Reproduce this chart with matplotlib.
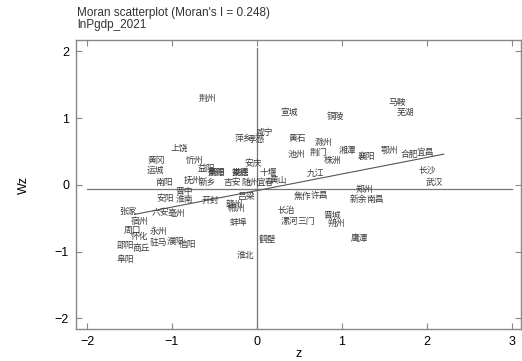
import matplotlib
matplotlib.use("Agg")
import matplotlib.pyplot as plt

plt.rcParams['font.family'] = ['Liberation Sans', 'DejaVu Sans']

title1 = "Moran scatterplot (Moran's I = 0.248)"
title2 = "lnPgdp_2021"
moran_i = 0.248
intercept = -0.085
line_x = [-1.44, 2.2]
mean_wz = -0.06

labels = ["荆州", "宣城", "铜陵", "马鞍", "芜湖", "咸宁", "萍乡", "孝感", "黄石", "滁州",
          "池州", "荆门", "鄂州", "湘潭", "株洲", "襄阳", "合肥", "宜昌", "长沙", "武汉",
          "九江", "十堰", "安庆", "黄山", "宜春", "上饶", "黄冈", "忻州", "运城", "益阳",
          "衡阳", "娄底", "南阳", "抚州", "新乡", "吉安", "随州", "晋中", "安阳", "淮南",
          "开封", "赣州", "吕梁", "郴州", "蚌埠", "张家", "六安", "亳州", "宿州", "周口",
          "永州", "怀化", "驻马", "濮阳", "信阳", "邵阳", "商丘", "阜阳", "淮北", "鹤壁",
          "焦作", "许昌", "郑州", "新余", "南昌", "长治", "漯河", "三门", "晋城", "朔州",
          "鹰潭", "景德", "常德"]
z = [-0.58, 0.38, 0.92, 1.65, 1.75, 0.09, -0.16, -0.01, 0.47, 0.78,
     0.47, 0.73, 1.56, 1.06, 0.89, 1.29, 1.80, 1.98, 2.00, 2.09,
     0.69, 0.13, -0.04, 0.25, 0.10, -0.91, -1.18, -0.74, -1.20, -0.60,
     -0.48, -0.20, -1.09, -0.76, -0.58, -0.29, -0.08, -0.86, -1.08, -0.85,
     -0.55, -0.26, -0.12, -0.24, -0.22, -1.52, -1.14, -0.95, -1.38, -1.46,
     -1.16, -1.38, -1.16, -0.96, -0.82, -1.55, -1.36, -1.55, -0.13, 0.13,
     0.54, 0.74, 1.27, 1.19, 1.39, 0.35, 0.38, 0.58, 0.89, 0.94,
     1.21, -0.48, -0.20]
wz = [1.30, 1.08, 1.02, 1.23, 1.08, 0.79, 0.70, 0.68, 0.70, 0.63,
      0.45, 0.49, 0.52, 0.52, 0.36, 0.43, 0.46, 0.49, 0.22, 0.04,
      0.18, 0.18, 0.31, 0.06, 0.03, 0.55, 0.37, 0.37, 0.21, 0.25,
      0.18, 0.18, 0.03, 0.07, 0.03, 0.03, 0.03, -0.10, -0.21, -0.22,
      -0.24, -0.30, -0.18, -0.36, -0.57, -0.40, -0.42, -0.43, -0.55, -0.69,
      -0.70, -0.78, -0.87, -0.85, -0.90, -0.91, -0.96, -1.11, -1.06, -0.82,
      -0.18, -0.16, -0.07, -0.22, -0.22, -0.39, -0.55, -0.55, -0.45, -0.58,
      -0.81, 0.19, 0.19]

xticks = [-2, -1, 0, 1, 2, 3]
yticks = [-2, -1, 0, 1, 2]

fig = plt.figure(figsize=(5.22, 3.61), dpi=100)
ax = fig.add_axes([0.1456, 0.0886, 0.852, 0.8004])
ax.set_xlim(-2.13, 3.106)
ax.set_ylim(-2.16, 2.17)

for lab, xv, yv in zip(labels, z, wz):
    ax.text(xv, yv, lab, ha='center', va='center', fontsize=6.3, color='#3a3a3a',
            family=['Noto Sans CJK SC', 'DejaVu Sans'])

ax.plot([0, 0], [-2.16, 2.05], color='#777777', lw=0.9)
ax.plot([-2.0, 3.0], [mean_wz, mean_wz], color='#777777', lw=0.9)
ax.plot(line_x, [intercept + moran_i * v for v in line_x], color='#555555', lw=0.8)

ax.set_xticks(xticks)
ax.set_yticks(yticks)
ax.tick_params(direction='in', length=4, width=0.8, color='#888888', labelsize=9,
               top=True, right=True, labeltop=False, labelright=False, pad=5)
for s in ax.spines.values():
    s.set_color('#888888')
    s.set_linewidth(1.0)
ax.set_xlabel('z', fontsize=9, labelpad=0)
ax.set_ylabel('Wz', fontsize=9, labelpad=18)

fig.text(0.1475, 0.965, title1, fontsize=8.5, va='center', ha='left', color='#333333')
fig.text(0.1475, 0.932, title2, fontsize=8.5, va='center', ha='left', color='#333333')

fig.savefig('out.png', dpi=100)
